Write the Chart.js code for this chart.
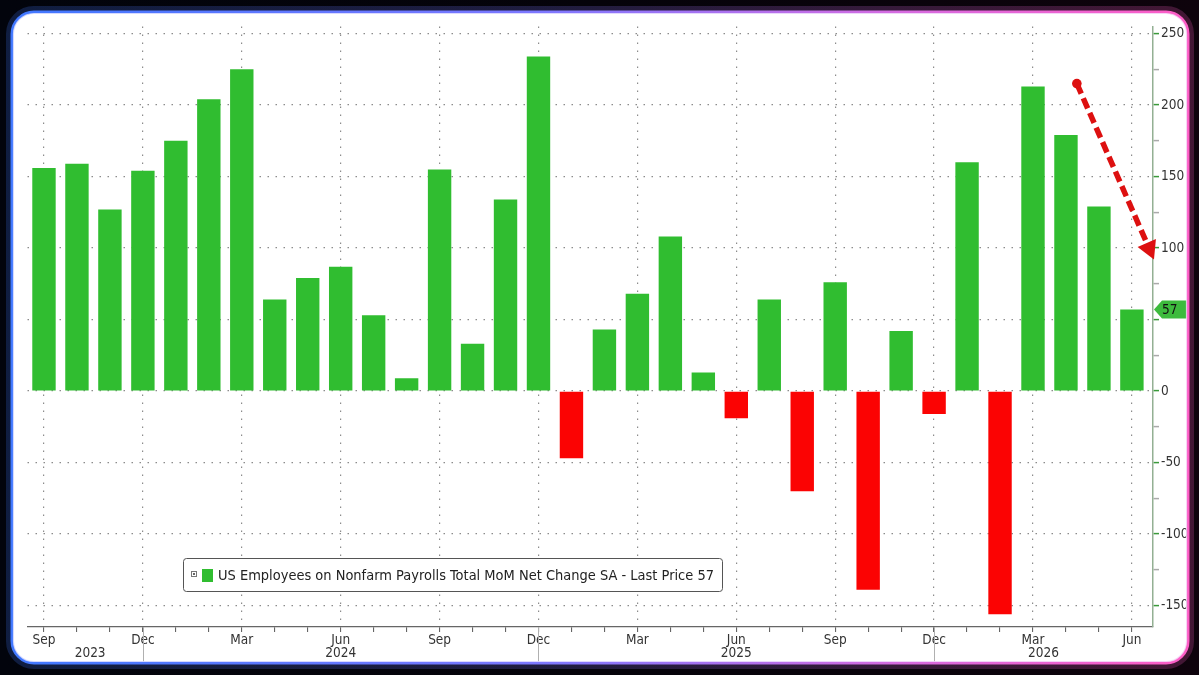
<!DOCTYPE html>
<html><head><meta charset="utf-8">
<script src="https://cdn.jsdelivr.net/npm/chart.js@4.4.1/dist/chart.umd.min.js"></script>
<style>html,body{margin:0;padding:0;background:#05050c;}canvas{display:block;}</style>
</head><body>
<canvas id="c" width="1199" height="675"></canvas>
<script>
// ---- data ----
const months = ['Sep','Oct','Nov','Dec',
  'Jan','Feb','Mar','Apr','May','Jun','Jul','Aug','Sep','Oct','Nov','Dec',
  'Jan','Feb','Mar','Apr','May','Jun','Jul','Aug','Sep','Oct','Nov','Dec',
  'Jan','Feb','Mar','Apr','May','Jun'];
const years = [2023,2023,2023,2023,
  2024,2024,2024,2024,2024,2024,2024,2024,2024,2024,2024,2024,
  2025,2025,2025,2025,2025,2025,2025,2025,2025,2025,2025,2025,
  2026,2026,2026,2026,2026,2026];
const values = [156,159,127,154,
  175,204,225,64,79,87,53,9,155,33,134,234,
  -47,43,68,108,13,-19,64,-70,76,-139,42,-16,
  160,-156,213,179,129,57];
const yTickValues = [-150,-125,-100,-75,-50,-25,0,25,50,75,100,125,150,175,200,225,250];
const yTickLabels = [250,200,150,100,0,-50,-100,-150];
const legendText = 'US Employees on Nonfarm Payrolls Total MoM Net Change SA - Last Price 57';
const lastPrice = 57;
// arrow annotation in data units: [index, value]
const arrowStart = [31.33, 215];
const arrowEnd = [33.67, 92];

const F = '"DejaVu Sans Condensed","DejaVu Sans",sans-serif';
const GREEN = '#30bd30', RED = '#fb0303';
const W = 1199, H = 675;

function rr(ctx,x,y,w,h,r){
  ctx.moveTo(x+r,y); ctx.arcTo(x+w,y,x+w,y+h,r); ctx.arcTo(x+w,y+h,x,y+h,r);
  ctx.arcTo(x,y+h,x,y,r); ctx.arcTo(x,y,x+w,y,r); ctx.closePath();
}

const decor = {
  id:'decor',
  beforeDraw(chart){
    const ctx = chart.ctx; ctx.save(); ctx.fillStyle='#ffffff'; ctx.fillRect(0,0,W,H); ctx.restore();
  },
  afterDraw(chart){
    const ctx = chart.ctx, xs = chart.scales.x, ys = chart.scales.y, ca = chart.chartArea;
    ctx.save();
    // year separators & labels
    const decIdx = [];
    months.forEach((m,i)=>{ if(m==='Dec') decIdx.push(i); });
    ctx.strokeStyle='#b0b0b0'; ctx.lineWidth=1;
    decIdx.forEach(i=>{ const px = Math.round(xs.getPixelForValue(i))+0.5; ctx.beginPath(); ctx.moveTo(px, ca.bottom); ctx.lineTo(px, H-10); ctx.stroke(); });
    const uniqYears = [...new Set(years)];
    ctx.fillStyle='#333'; ctx.font='13.5px '+F; ctx.textAlign='center'; ctx.textBaseline='middle';
    uniqYears.forEach((yr,k)=>{
      const lo = k===0 ? xs.getPixelForValue(-0.2) : xs.getPixelForValue(decIdx[k-1]);
      const hi = k<decIdx.length ? xs.getPixelForValue(decIdx[k]) : ca.right;
      ctx.fillText(String(yr), (lo+hi)/2, ca.bottom+26);
    });
    // legend box
    ctx.font = '14px '+F;
    let tw = ctx.measureText(legendText).width;
    const fs = 14*496/tw;
    ctx.font = fs.toFixed(2)+'px '+F;
    const lx=183.5, ly=558.5, lw=539, lh=33;
    ctx.beginPath(); rr(ctx,lx,ly,lw,lh,3); ctx.fillStyle='#ffffff'; ctx.fill();
    ctx.strokeStyle='#555'; ctx.lineWidth=1; ctx.stroke();
    ctx.strokeStyle='#777'; ctx.strokeRect(191.5,571.5,5,5);
    ctx.fillStyle='#666'; ctx.fillRect(193,573,2,2);
    ctx.fillStyle=GREEN; ctx.fillRect(202,569,11,13);
    ctx.fillStyle='#222'; ctx.textAlign='left'; ctx.textBaseline='middle';
    ctx.fillText(legendText, 218, 576);
    // last price tag
    const ty = ys.getPixelForValue(lastPrice);
    const tx = ca.right+1;
    ctx.beginPath(); ctx.moveTo(tx, ty); ctx.lineTo(tx+8, ty-9); ctx.lineTo(tx+40, ty-9); ctx.lineTo(tx+40, ty+9); ctx.lineTo(tx+8, ty+9); ctx.closePath();
    ctx.fillStyle='#3dbb3d'; ctx.fill();
    ctx.fillStyle='#111'; ctx.font='13.5px '+F; ctx.textAlign='left';
    ctx.fillText(String(lastPrice), tx+8, ty+0.5);
    // arrow
    const x1 = xs.getPixelForValue(arrowStart[0]), y1 = ys.getPixelForValue(arrowStart[1]);
    const x2 = xs.getPixelForValue(arrowEnd[0]), y2 = ys.getPixelForValue(arrowEnd[1]);
    const ang = Math.atan2(y2-y1, x2-x1), hl = 18, hw = 10;
    const bx = x2 - hl*Math.cos(ang), by = y2 - hl*Math.sin(ang);
    ctx.strokeStyle='#dd1010'; ctx.fillStyle='#dd1010'; ctx.lineWidth=5.5; ctx.setLineDash([11,5]);
    ctx.beginPath(); ctx.moveTo(x1,y1); ctx.lineTo(bx,by); ctx.stroke(); ctx.setLineDash([]);
    ctx.beginPath(); ctx.arc(x1,y1,4.8,0,Math.PI*2); ctx.fill();
    ctx.beginPath(); ctx.moveTo(x2,y2);
    ctx.lineTo(bx + hw*Math.sin(ang), by - hw*Math.cos(ang));
    ctx.lineTo(bx - hw*Math.sin(ang), by + hw*Math.cos(ang)); ctx.closePath(); ctx.fill();
    // frame: outside dark
    const fx=12, fy=12, fw=1176, fh=651, fr=22;
    ctx.beginPath(); ctx.rect(0,0,W,H); rr(ctx,fx,fy,fw,fh,fr);
    const bg = ctx.createLinearGradient(0,0,W,0);
    bg.addColorStop(0,'#02040c'); bg.addColorStop(0.5,'#05030a'); bg.addColorStop(1,'#0e030c');
    ctx.fillStyle = bg; ctx.fill('evenodd');
    const g = ctx.createLinearGradient(0,0,W,0);
    g.addColorStop(0,'#3f78ff'); g.addColorStop(0.45,'#7d78ff'); g.addColorStop(0.75,'#d66be0'); g.addColorStop(1,'#ff5cc4');
    ctx.globalAlpha=0.22; ctx.lineWidth=8; ctx.strokeStyle=g; ctx.beginPath(); rr(ctx,fx-2,fy-2,fw+4,fh+4,fr+2); ctx.stroke();
    ctx.globalAlpha=1; ctx.lineWidth=3; ctx.beginPath(); rr(ctx,fx,fy,fw,fh,fr); ctx.stroke();
    ctx.globalAlpha=0.7; ctx.lineWidth=1.2; ctx.strokeStyle='#f2ecff'; ctx.beginPath(); rr(ctx,fx+1.5,fy+1.5,fw-3,fh-3,fr-1.5); ctx.stroke();
    ctx.restore();
  }
};

new Chart(document.getElementById('c'), {
  type:'bar',
  data:{datasets:[{
    data: values.map((v,i)=>({x:i, y:v})),
    backgroundColor: values.map(v=> v>=0 ? GREEN : RED),
    borderWidth:0, barPercentage:0.71, categoryPercentage:1
  }]},
  options:{
    responsive:false, animation:false, events:[],
    layout:{padding:{left:27.5, top:26.4, right:0, bottom:0}},
    plugins:{legend:{display:false}, tooltip:{enabled:false}},
    scales:{
      x:{type:'linear', min:-0.5, max:33.64, offset:false,
        afterBuildTicks: s=>{ s.ticks = months.map((m,i)=>({value:i})); },
        afterFit: s=>{ s.height = 48; },
        ticks:{autoSkip:false, maxRotation:0, minRotation:0, padding:0, color:'#333', font:{family:F, size:13.5},
          callback:(v)=> (v%3===0 ? months[v] : '')},
        grid:{offset:false, color: c=> (c.tick && c.tick.value%3===0 ? '#8c8c8c' : 'rgba(0,0,0,0)'),
          lineWidth:1.2, tickColor:'#555', tickLength:5, tickWidth:1},
        border:{display:true, color:'#666', width:1.3, dash:[1.5,6.5]}
      },
      y:{position:'right', min:-165, max:255,
        afterBuildTicks: s=>{ s.ticks = yTickValues.map(v=>({value:v})); },
        afterFit: s=>{ s.width = 46; },
        ticks:{padding:2, color:'#333', font:{family:F, size:13.5},
          callback:(v)=> (yTickLabels.includes(v) ? String(v) : '')},
        grid:{color: c=> (c.tick && c.tick.value%50===0 ? '#8c8c8c' : 'rgba(0,0,0,0)'),
          lineWidth:1.2, tickColor: c=> (c.tick && c.tick.value%50===0 ? '#3a9a3a' : '#aaaaaa'), tickLength:6, tickWidth:1.5},
        border:{display:true, color:'#93b093', width:1.5, dash:[1.5,6.5]}
      }
    }
  },
  plugins:[decor]
});
</script>
</body></html>
